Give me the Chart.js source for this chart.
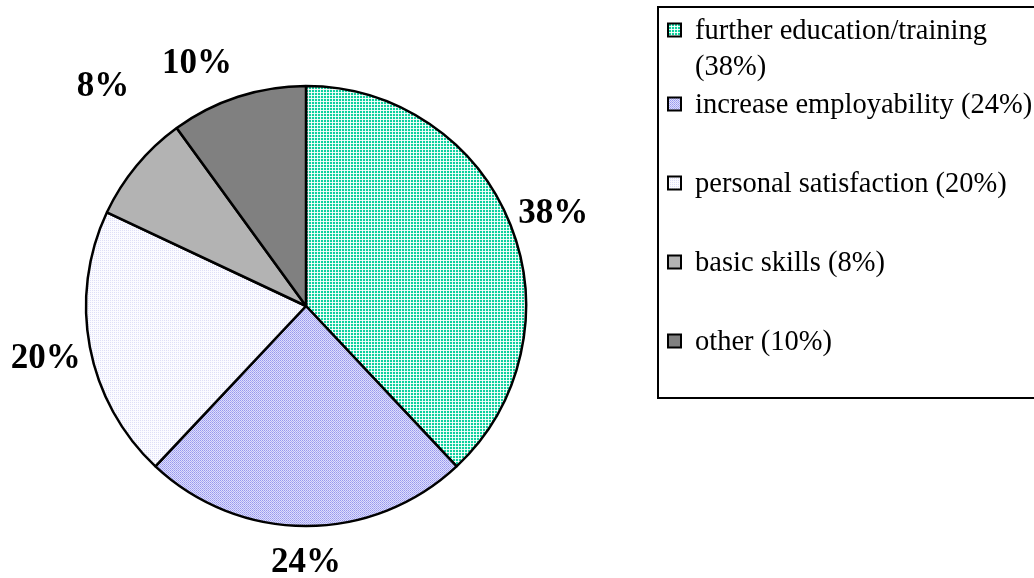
<!DOCTYPE html>
<html>
<head>
<meta charset="utf-8">
<script src="https://cdn.jsdelivr.net/npm/chart.js@4.4.1/dist/chart.umd.min.js"></script>
<style>
  html, body { margin: 0; padding: 0; background: #ffffff; }
  #wrap { width: 1034px; height: 578px; position: relative; }
</style>
</head>
<body>
<div id="wrap"><canvas id="c" width="1034" height="578"></canvas></div>
<script>
// ---- data ----
const categories = ["further education/training", "increase employability", "personal satisfaction", "basic skills", "other"];
const values = [38, 24, 20, 8, 10];
const dataLabels = ["38%", "24%", "20%", "8%", "10%"];
const legendLabels = ["further education/training (38%)", "increase employability (24%)", "personal satisfaction (20%)", "basic skills (8%)", "other (10%)"];

// ---- patterns ----
function makePattern(size, base, cells) {
  const c = document.createElement('canvas');
  c.width = size; c.height = size;
  const g = c.getContext('2d');
  g.fillStyle = base; g.fillRect(0, 0, size, size);
  cells.forEach(([x, y, col]) => { g.fillStyle = col; g.fillRect(x, y, 1, 1); });
  return g.createPattern(c, 'repeat');
}
const tealPat = makePattern(3, '#0fd09e', [[2,0,'#e4fbf4'],[2,1,'#e4fbf4'],[0,2,'#e4fbf4'],[1,2,'#e4fbf4'],[2,2,'#ffffff']]);
const lavPat = makePattern(2, '#dedefc', [[0,0,'#9898ee'],[1,1,'#acacf2']]);
const lightPat = makePattern(2, '#fbfbff', [[0,0,'#dedef7']]);
const fills = [tealPat, lavPat, lightPat, '#b3b3b3', '#808080'];

const labelPlugin = {
  id: 'sliceLabels',
  afterDatasetsDraw(chart, args, opts) {
    const ctx = chart.ctx;
    const meta = chart.getDatasetMeta(0);
    ctx.save();
    ctx.font = opts.font;
    ctx.fillStyle = '#000';
    ctx.textAlign = 'center';
    ctx.textBaseline = 'middle';
    meta.data.forEach((arc, i) => {
      const p = arc.getProps(['x', 'y', 'startAngle', 'endAngle', 'outerRadius'], true);
      const a = (p.startAngle + p.endAngle) / 2 + (opts.angleShift[i] || 0) * Math.PI / 180;
      const d = p.outerRadius + opts.distance + (opts.extra[i] || 0);
      ctx.fillText(dataLabels[i], p.x + Math.cos(a) * d, p.y + Math.sin(a) * d + opts.yNudge);
    });
    ctx.restore();
  }
};

const legendPlugin = {
  id: 'boxLegend',
  afterDraw(chart, args, opts) {
    const ctx = chart.ctx;
    ctx.save();
    ctx.lineWidth = 2;
    ctx.strokeStyle = '#000';
    ctx.strokeRect(opts.left, opts.top, opts.width, opts.height);
    ctx.font = opts.font;
    ctx.textBaseline = 'middle';
    ctx.textAlign = 'left';
    const textX = opts.left + opts.textIndent;
    legendLabels.forEach((lab, i) => {
      const words = lab.split(' ');
      const lines = [];
      let cur = '';
      words.forEach(w => {
        const t = cur ? cur + ' ' + w : w;
        if (ctx.measureText(t).width > opts.maxTextWidth && cur) { lines.push(cur); cur = w; }
        else cur = t;
      });
      if (cur) lines.push(cur);
      const y0 = opts.rowY[i];
      const s = opts.swatch;
      const sx = opts.left + opts.swatchIndent;
      const sy = y0 - s / 2 - 2;
      ctx.fillStyle = fills[i];
      ctx.fillRect(sx, sy, s, s);
      ctx.lineWidth = 2;
      ctx.strokeRect(sx, sy, s, s);
      ctx.fillStyle = '#000';
      lines.forEach((ln, k) => ctx.fillText(ln, textX, y0 + k * opts.lineHeight));
    });
    ctx.restore();
  }
};

new Chart(document.getElementById('c'), {
  type: 'pie',
  data: {
    labels: categories,
    datasets: [{
      data: values,
      backgroundColor: fills,
      borderColor: '#000000',
      borderWidth: 2.5,
      radius: 220
    }]
  },
  options: {
    responsive: false,
    animation: false,
    events: [],
    layout: { padding: { left: 0, right: 422, top: 34, bottom: 0 } },
    plugins: {
      legend: { display: false },
      tooltip: { enabled: false },
      sliceLabels: {
        font: 'bold 35px "Liberation Serif", "Times New Roman", serif',
        distance: 45,
        yNudge: 3,
        angleShift: [0.5, 0, 0, 8, -6],
        extra: [0, -11, 0, 36, 3]
      },
      boxLegend: {
        left: 658, top: 7, width: 400, height: 391,
        font: '28.5px "Liberation Serif", "Times New Roman", serif',
        textIndent: 37, swatchIndent: 10, swatch: 13,
        maxTextWidth: 345, lineHeight: 36,
        rowY: [32, 106, 185, 264, 343]
      }
    }
  },
  plugins: [labelPlugin, legendPlugin]
});
</script>
</body>
</html>
